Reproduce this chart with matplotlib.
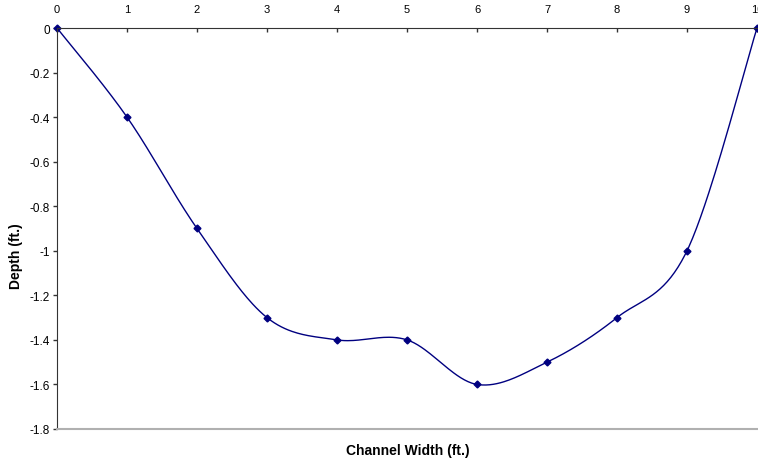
import numpy as np
import matplotlib
matplotlib.use("Agg")
import matplotlib.pyplot as plt

plt.rcParams['font.family'] = ['Liberation Sans', 'DejaVu Sans']

width = [0, 1, 2, 3, 4, 5, 6, 7, 8, 9, 10]
depth = [0, -0.4, -0.9, -1.3, -1.4, -1.4, -1.6, -1.5, -1.3, -1.0, 0]
yticks = [0, -0.2, -0.4, -0.6, -0.8, -1, -1.2, -1.4, -1.6, -1.8]
ytick_labels = ["0", "-0.2", "-0.4", "-0.6", "-0.8", "-1", "-1.2", "-1.4", "-1.6", "-1.8"]


def smooth(x, y, n=40):
    # Catmull-Rom style bezier smoothing like the spreadsheet "smoothed line"
    x = np.asarray(x, float)
    y = np.asarray(y, float)
    px = np.concatenate([[x[0]], x, [x[-1]]])
    py = np.concatenate([[y[0]], y, [y[-1]]])
    xs, ys = [], []
    t = np.linspace(0, 1, n)
    for i in range(1, len(px) - 2):
        p0 = np.array([px[i], py[i]])
        p3 = np.array([px[i + 1], py[i + 1]])
        p1 = p0 + (np.array([px[i + 1], py[i + 1]]) - np.array([px[i - 1], py[i - 1]])) / 6
        p2 = p3 - (np.array([px[i + 2], py[i + 2]]) - np.array([px[i], py[i]])) / 6
        b = ((1 - t) ** 3)[:, None] * p0 + (3 * (1 - t) ** 2 * t)[:, None] * p1 \
            + (3 * (1 - t) * t ** 2)[:, None] * p2 + (t ** 3)[:, None] * p3
        xs.extend(b[:, 0])
        ys.extend(b[:, 1])
    return xs, ys


fig = plt.figure(figsize=(7.58, 4.64), dpi=100)
ax = fig.add_axes([0.0752, 0.0733, 0.9235, 0.8642])

sx, sy = smooth(width, depth)
ax.plot(sx, sy, color='#000080', lw=1.0, clip_on=False)
ax.plot(width, depth, ls='none', marker='D', ms=3.5, color='#000080', clip_on=False)

ax.set_xlim(0, 10)
ax.set_ylim(-1.8, 0)
ax.xaxis.tick_top()
ax.set_xticks(width)
ax.set_yticks(yticks)
ax.set_yticklabels(ytick_labels)
ax.tick_params(axis='both', labelsize=8.5, width=1, colors='#333333', labelcolor='black')
ax.tick_params(axis='x', direction='in', length=3, pad=10, labelsize=8)
ax.tick_params(axis='y', direction='out', length=3, pad=2)

ax.spines['right'].set_visible(False)
ax.spines['bottom'].set_color('#b0b0b0')
ax.spines['bottom'].set_linewidth(1.5)
ax.spines['top'].set_color('#333333')
ax.spines['left'].set_color('#333333')

fig.text(0.538, 0.028, 'Channel Width (ft.)', ha='center', va='center', fontsize=10, fontweight='bold')
fig.text(0.021, 0.447, 'Depth (ft.)', rotation=90, ha='center', va='center', fontsize=10, fontweight='bold')

fig.savefig('out.png', dpi=100)
